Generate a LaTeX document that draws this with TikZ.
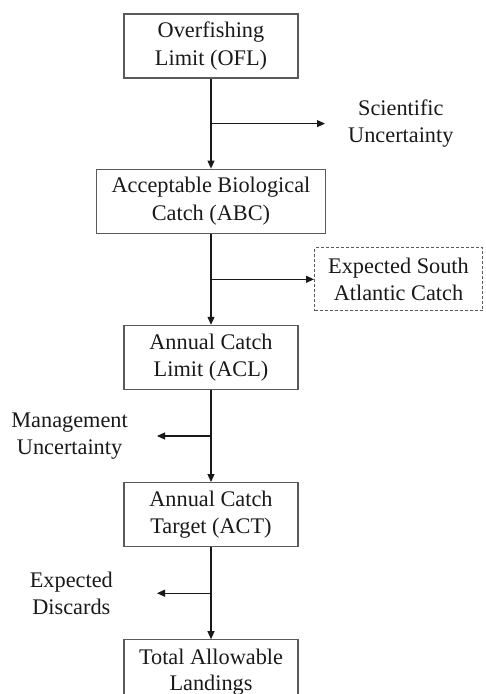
\documentclass[tikz,border=0pt]{standalone}
\usepackage{fontspec}
\setmainfont{Liberation Serif}
\usetikzlibrary{arrows.meta,positioning,calc}
\definecolor{ink}{RGB}{25,25,25}
\definecolor{rim}{RGB}{90,90,90}
\tikzset{
  box/.style={draw=rim,line width=1.2pt,align=center,minimum width=174pt,minimum height=64pt,inner sep=4pt,text=ink,font=\fontsize{22.3}{27.5}\selectfont},
  dbox/.style={box,dash pattern=on 3pt off 2pt,line width=1pt,minimum width=168pt,minimum height=63pt},
  lbl/.style={align=center,inner sep=4pt,text=ink,font=\fontsize{22.3}{27.5}\selectfont},
  arr/.style={-{Triangle[length=8pt,width=7pt]},line width=1.1pt,draw=ink},
}

\begin{document}
\begin{tikzpicture}[node distance=91pt]
  \useasboundingbox (0,0) rectangle (485pt,-694pt);
  % main chain
  \node[box] (ofl) at (211pt,-46pt) {Overfishing\\Limit (OFL)};
  \node[box,minimum width=229pt,below=90pt of ofl] (abc) {Acceptable Biological\\Catch (ABC)};
  \node[box,below=of abc] (acl) {Annual Catch\\Limit (ACL)};
  \node[box,below=92pt of acl] (act) {Annual Catch\\Target (ACT)};
  \node[box,below=92pt of act,font=\fontsize{22.3}{26}\selectfont] (tal) {Total Allowable\\Landings};
  % branch points
  \coordinate (b1) at ($(ofl.south)!0.5!(abc.north)$);
  \coordinate (b2) at ($(abc.south)!0.5!(acl.north)$);
  \coordinate (b3) at ($(acl.south)!0.5!(act.north)$);
  \coordinate (b4) at ($(act.south)!0.5!(tal.north)$);
  % side labels
  \node[lbl,right=133pt of b1] (sci) {Scientific\\Uncertainty};
  \node[dbox,right=103pt of b2] (sac) {Expected South\\Atlantic Catch};
  \node[lbl,left=79pt of b3] (mgt) {Management\\Uncertainty};
  \node[lbl,left=94pt of b4] (dis) {Expected\\Discards};
  \coordinate[right=114pt of b1] (e1);
  \coordinate[left=54pt of b3] (e3);
  \coordinate[left=54pt of b4] (e4);
  % connectors
  \draw[arr] (ofl) -- (abc);
  \draw[arr] (abc) -- (acl);
  \draw[arr] (acl) -- (act);
  \draw[arr] (act) -- (tal);
  \draw[arr] (b1) -- (e1);
  \draw[arr] (b2) -- (sac);
  \draw[arr] (b3) -- (e3);
  \draw[arr] (b4) -- (e4);
\end{tikzpicture}
\end{document}
